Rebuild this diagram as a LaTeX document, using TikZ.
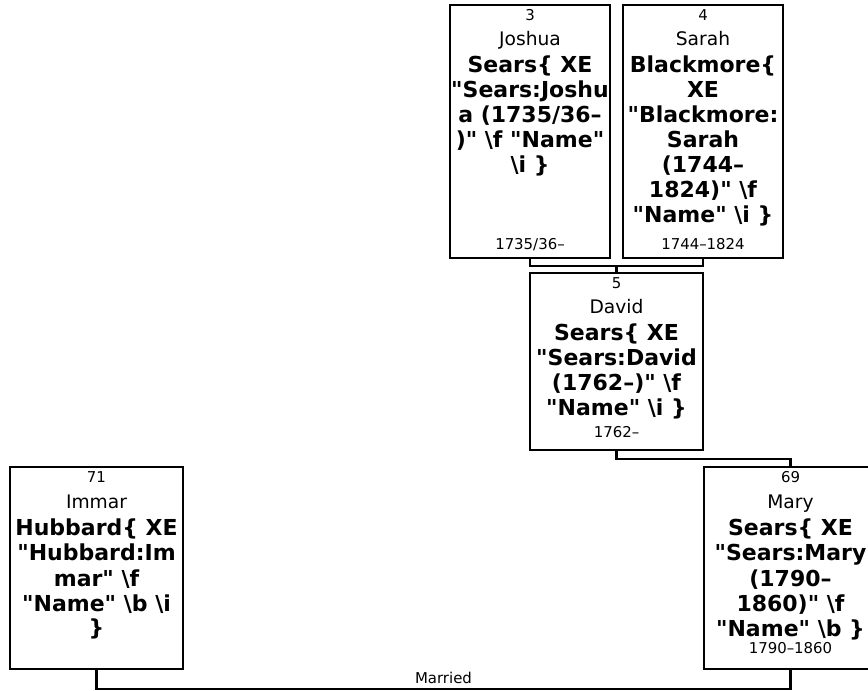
\documentclass[tikz,border=0pt]{standalone}
\usepackage{fontspec}
\setmainfont{DejaVu Sans}
\newcommand\qd{\textquotedbl}
\newcommand\bs{\textbackslash}
\begin{document}
\begin{tikzpicture}[x=0.75pt,y=-0.75pt,
  box/.style={draw,line width=1.6pt,inner sep=0pt,outer sep=0pt,anchor=north west},
  conn/.style={draw,line width=1.6pt},
  sm/.style={anchor=base,inner sep=0pt,font=\fontsize{11.2}{13}\selectfont},
  rg/.style={anchor=base,inner sep=0pt,font=\fontsize{14}{16}\selectfont},
  bd/.style={anchor=base,inner sep=0pt,font=\fontsize{16.5}{19}\selectfont\bfseries},
]
\useasboundingbox (0,0) rectangle (868,691);
\begin{scope}
\clip (0,0) rectangle (868,691);
% boxes
\node[box,minimum width=120pt,minimum height=189.75pt] (joshua) at (450,5) {};
\node[box,minimum width=120pt,minimum height=189.75pt] (sarah) at (623,5) {};
\node[box,minimum width=129.75pt,minimum height=132.75pt] (david) at (530,273) {};
\node[box,minimum width=129.75pt,minimum height=151.5pt] (immar) at (10,467) {};
\node[box,minimum width=129.75pt,minimum height=151.5pt] (mary) at (704,467) {};
% connectors
\draw[conn] (joshua.south) -- ++(0,8) coordinate (par) -| (sarah.south);
\draw[conn] (david.north) -- (david.north |- par);
\draw[conn] (david.south) -- ++(0,9) -| (mary.north);
\draw[conn] (immar.south) -- ++(0,20) -| node[pos=0.25,above=3pt,inner sep=0pt,font=\fontsize{11.2}{13}\selectfont] (married) {Married} (mary.south);
% Joshua
\node[sm] (j1) at (530,21) {3};
\node[rg] (j2) at (530,46) {Joshua};
\node[bd] (j3) at (530,73) {Sears\{ XE};
\node[bd] (j4) at (530,98) {\qd Sears:Joshu};
\node[bd] (j5) at (530,123) {a (1735/36–};
\node[bd] (j6) at (530,148) {)\qd{} \bs f \qd Name\qd};
\node[bd] (j7) at (530,173) {\bs i \}};
\node[sm] (j8) at (530,250) {1735/36–};
% Sarah
\node[sm] (s1) at (703,21) {4};
\node[rg] (s2) at (703,46) {Sarah};
\node[bd] (s3) at (703,73) {Blackmore\{};
\node[bd] (s4) at (703,98) {XE};
\node[bd] (s5) at (703,123) {\qd Blackmore:};
\node[bd] (s6) at (703,148) {Sarah};
\node[bd] (s7) at (703,173) {(1744–};
\node[bd] (s8) at (703,198) {1824)\qd{} \bs f};
\node[bd] (s9) at (703,223) {\qd Name\qd{} \bs i \}};
\node[sm] (s10) at (703,250) {1744–1824};
% David
\node[sm] (d1) at (616.5,289) {5};
\node[rg] (d2) at (616.5,314) {David};
\node[bd] (d3) at (616.5,341) {Sears\{ XE};
\node[bd] (d4) at (616.5,366) {\qd Sears:David};
\node[bd] (d5) at (616.5,391) {(1762–)\qd{} \bs f};
\node[bd] (d6) at (616.5,416) {\qd Name\qd{} \bs i \}};
\node[sm] (d7) at (616.5,438) {1762–};
% Immar
\node[sm] (i1) at (96.5,483) {71};
\node[rg] (i2) at (96.5,509) {Immar};
\node[bd] (i3) at (96.5,536) {Hubbard\{ XE};
\node[bd] (i4) at (96.5,561) {\qd Hubbard:Im};
\node[bd] (i5) at (96.5,586) {mar\qd{} \bs f};
\node[bd] (i6) at (96.5,611) {\qd Name\qd{} \bs b \bs i};
\node[bd] (i7) at (96.5,635) {\}};
% Mary
\node[sm] (m1) at (790.5,483) {69};
\node[rg] (m2) at (790.5,509) {Mary};
\node[bd] (m3) at (790.5,536) {Sears\{ XE};
\node[bd] (m4) at (790.5,561) {\qd Sears:Mary};
\node[bd] (m5) at (790.5,586) {(1790–};
\node[bd] (m6) at (790.5,611) {1860)\qd{} \bs f};
\node[bd] (m7) at (790.5,636) {\qd Name\qd{} \bs b \}};
\node[sm] (m8) at (790.5,653) {1790–1860};
\end{scope}
\end{tikzpicture}
\end{document}
